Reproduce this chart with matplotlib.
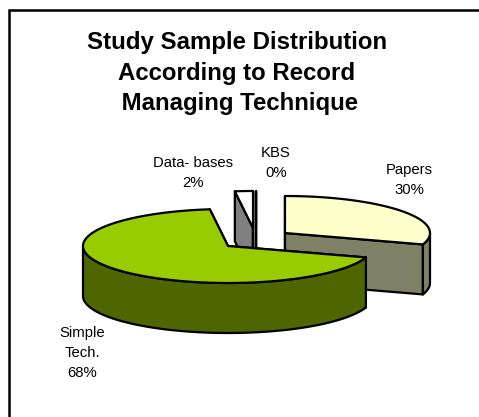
"""Exploded 3D-style pie of the study sample by record managing technique."""
import numpy as np
import matplotlib
matplotlib.use("Agg")
import matplotlib.pyplot as plt
from matplotlib.patches import Polygon

plt.rcParams["font.family"] = ["Liberation Sans", "DejaVu Sans"]

# slices in drawing order, clockwise from twelve o'clock
SLICES = ["Papers", "Simple Tech.", "Data- bases", "KBS"]
VALUES = [30, 68, 2, 0]
TOP_COLORS = ["#FFFFCC", "#99CC00", "#FFFFFF", "#FFFFFF"]
SIDE_COLORS = ["#808066", "#4D6600", "#808080", "#808080"]

TITLE = "Study Sample Distribution\nAccording to Record\n Managing Technique"
LABELS = ["Papers\n30%", "Simple\nTech.\n68%", "Data- bases\n2%", "KBS\n0%"]

# layout, in pixels of the 479x417 canvas
CENTERS = [(285, 233), (228, 246), (253, 228), (256, 228)]
LABEL_POS = [(409, 180), (82, 353), (193, 173), (276, 163)]
RX, RY = 145, 37
DEPTH = 50
LW = 1.6


def rim(a0, a1):
    """Unit rim points from a0 to a1, degrees clockwise from the top."""
    n = max(2, int(abs(a1 - a0)) + 2)
    t = np.radians(np.linspace(a0, a1, n))
    return RX * np.sin(t), -RY * np.cos(t)


def draw_slice(ax, center, a0, a1, top, side, z):
    cx, cy = center
    x, y = rim(a0, a1)
    x, y = x + cx, y + cy

    # radial walls at both cut edges
    for px, py in ((x[0], y[0]), (x[-1], y[-1])):
        ax.add_patch(Polygon([(cx, cy), (px, py), (px, py + DEPTH), (cx, cy + DEPTH)],
                             fc=side, ec="black", lw=LW, joinstyle="round", zorder=z))

    # outer wall: only the part of the rim on the near side
    lo, hi = max(a0, 90), min(a1, 270)
    if hi > lo:
        wx, wy = rim(lo, hi)
        wx, wy = wx + cx, wy + cy
        pts = np.r_[np.c_[wx, wy], np.c_[wx, wy + DEPTH][::-1]]
        ax.add_patch(Polygon(pts, fc=side, ec="black", lw=LW, joinstyle="round", zorder=z))

    pts = np.r_[[(cx, cy)], np.c_[x, y]]
    ax.add_patch(Polygon(pts, fc=top, ec="black", lw=LW, joinstyle="round", zorder=z))


fig = plt.figure(figsize=(4.79, 4.17), dpi=100)
ax = fig.add_axes([0, 0, 1, 1])
ax.set_xlim(0, 479)
ax.set_ylim(417, 0)
ax.axis("off")

# slide frame, open past the canvas on the right and bottom
ax.plot([9, 9, 479], [417, 10, 10], color="black", lw=1.8, solid_joinstyle="miter")

start = 0
angles = []
for v in VALUES:
    angles.append((start, start + v * 3.6))
    start += v * 3.6

# the big slice goes last so it hides the others' lower walls
for i in (0, 2, 3, 1):
    draw_slice(ax, CENTERS[i], angles[i][0], angles[i][1], TOP_COLORS[i], SIDE_COLORS[i], 9 if i == 1 else i + 2)

ax.text(237, 73, TITLE, ha="center", va="center", fontsize=17.3, fontweight="bold",
        linespacing=1.4, color="black", zorder=10)
for lab, (lx, ly) in zip(LABELS, LABEL_POS):
    ax.text(lx, ly, lab, ha="center", va="center", fontsize=10.7, color="black",
            linespacing=1.55, zorder=10)

fig.savefig("out.png", dpi=100)
